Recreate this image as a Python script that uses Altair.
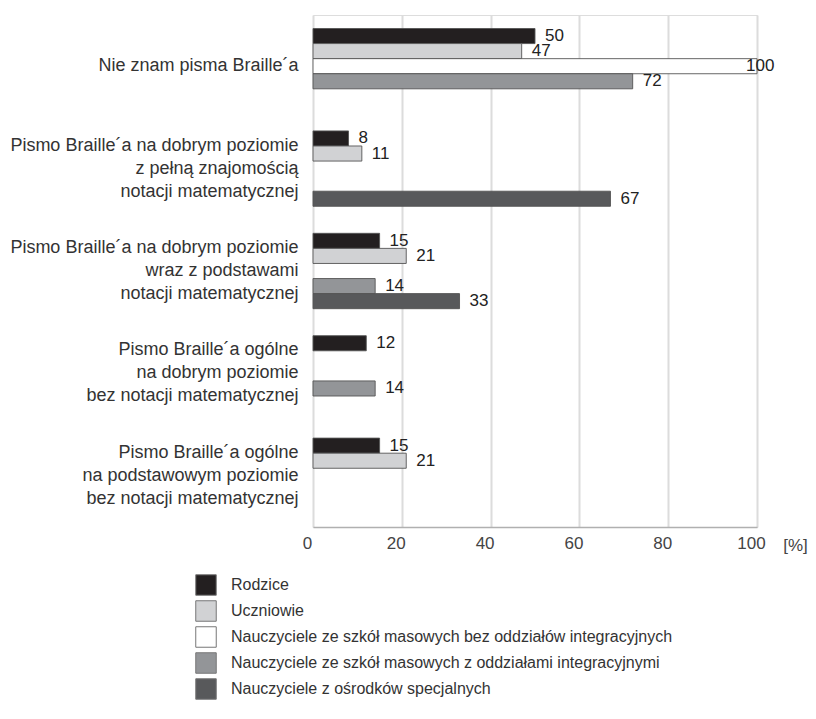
import altair as alt
import pandas as pd

categories = [
    "Nie znam pisma Braille´a",
    "Pismo Braille´a na dobrym poziomie|z pełną znajomością|notacji matematycznej",
    "Pismo Braille´a na dobrym poziomie|wraz z podstawami|notacji matematycznej",
    "Pismo Braille´a ogólne|na dobrym poziomie|bez notacji matematycznej",
    "Pismo Braille´a ogólne|na podstawowym poziomie|bez notacji matematycznej",
]
series = [
    "Rodzice",
    "Uczniowie",
    "Nauczyciele ze szkół masowych bez oddziałów integracyjnych",
    "Nauczyciele ze szkół masowych z oddziałami integracyjnymi",
    "Nauczyciele z ośrodków specjalnych",
]
colors = ["#231f20", "#d1d2d4", "#ffffff", "#939598", "#58595b"]

rodzice = [50, 8, 15, 12, 15]
uczniowie = [47, 11, 21, None, 21]
naucz_bez = [100, None, None, None, None]
naucz_z = [72, None, 14, 14, None]
naucz_spec = [None, 67, 33, None, None]

x_ticks = [0, 20, 40, 60, 80, 100]

values_by_series = [rodzice, uczniowie, naucz_bez, naucz_z, naucz_spec]
rows = []
for s, vals in zip(series, values_by_series):
    for c, v in zip(categories, vals):
        if v is not None:
            rows.append({"cat": c, "series": s, "value": v})
df = pd.DataFrame(rows)

FONT = "Liberation Sans"

base = alt.Chart(df).encode(
    y=alt.Y(
        "cat:N",
        sort=categories,
        scale=alt.Scale(domain=categories, paddingInner=0.264, paddingOuter=0.132),
        axis=alt.Axis(
            title=None,
            domain=False,
            ticks=False,
            labelPadding=15,
            labelFontSize=18,
            labelFont=FONT,
            labelColor="#333333",
            labelLineHeight=23,
            labelLimit=400,
            labelExpr="split(datum.label, '|')",
            labelOffset={
                "condition": {"test": "indexof(datum.value, '|') >= 0", "value": -23},
                "value": 0,
            },
        ),
    ),
    yOffset=alt.YOffset(
        "series:N",
        sort=series,
        scale=alt.Scale(domain=series, paddingInner=0, paddingOuter=0),
    ),
)

bars = base.mark_bar(stroke="#555555", strokeWidth=0.9).encode(
    x=alt.X(
        "value:Q",
        scale=alt.Scale(domain=[0, 100], nice=False),
        axis=alt.Axis(
            values=x_ticks,
            title="[%]",
            titleX=482,
            titleY=18,
            titleAlign="center",
            titleBaseline="middle",
            titleFontSize=17,
            titleFontWeight="normal",
            titleFont=FONT,
            titleColor="#444444",
            ticks=False,
            domainColor="#b0b0b0",
            domainWidth=1.5,
            gridColor="#dcdcdc",
            gridWidth=2,
            labelFontSize=17,
            labelFont=FONT,
            labelColor="#444444",
            labelPadding=8,
            labelOffset=-6,
            labelFlush=False,
        ),
    ),
    color=alt.Color(
        "series:N",
        sort=series,
        scale=alt.Scale(domain=series, range=colors),
        legend=alt.Legend(
            title=None,
            orient="none",
            legendX=-118,
            legendY=559,
            direction="vertical",
            symbolType="square",
            symbolSize=420,
            symbolStrokeColor="#777777",
            symbolStrokeWidth=1,
            symbolOpacity=1,
            labelFontSize=16,
            labelFont=FONT,
            labelColor="#333333",
            labelOffset=14,
            rowPadding=0,
            labelLimit=600,
            padding=0,
        ),
    ),
)

labels = base.mark_text(
    align="left", baseline="middle", dx=10, fontSize=17, font=FONT, color="#222222"
).encode(
    x="value:Q", text="value:Q"
).transform_filter("datum.value < 100")

labels_full = base.mark_text(
    align="left", baseline="middle", dx=-11, fontSize=17, font=FONT, color="#222222"
).encode(
    x="value:Q", text="value:Q"
).transform_filter("datum.value >= 100")

chart = (
    alt.layer(bars, labels, labels_full)
    .properties(
        width=444,
        height=512,
        autosize=alt.AutoSizeParams(type="none"),
        padding={"left": 305, "top": 7, "right": 51, "bottom": 185},
    )
    .configure_view(stroke=None)
    .configure(background="white")
)

chart.save("out.html", embed_options={"renderer": "svg", "actions": False})
